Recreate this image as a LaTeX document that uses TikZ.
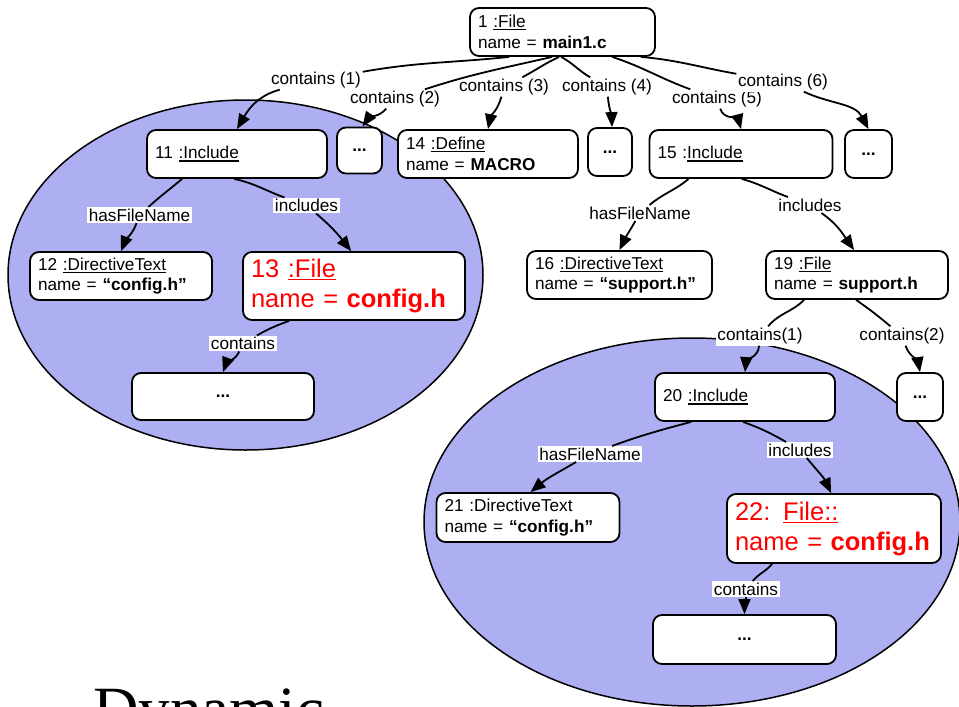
\documentclass[tikz,border=0pt]{standalone}
\usepackage{fontspec}
\setmainfont{Liberation Sans}
\newfontfamily\dynfont{Liberation Serif}
\usetikzlibrary{arrows.meta}
\definecolor{ellblue}{RGB}{174,174,242}
\newcommand{\uln}[1]{\vtop{\hbox{#1}\kern1.3pt\hrule height 1.1pt}}
\newcommand{\normaltext}{\fontsize{17.2}{20.5}\selectfont}
\newcommand{\bigtext}{\fontsize{25.5}{30}\selectfont}
\begin{document}
\begin{tikzpicture}[x=1pt,y=-1pt,
  obj/.style={draw, line width=1.8pt, rounded corners=9pt, fill=white, inner xsep=8pt, inner ysep=0pt, align=left, font=\normaltext},
  bigobj/.style={obj, text=red, font=\bigtext},
  dots/.style={obj, align=center},
  lab/.style={fill=white, inner sep=1.5pt, font=\normaltext},
  conn/.style={line width=1.8pt},
  arr/.style={conn, -{Triangle[length=15pt,width=12pt]}},
  ell/.style={fill=ellblue, draw=black, line width=1.5pt}]
\useasboundingbox (0,0) rectangle (959,707);
\clip (0,0) rectangle (959,707);

% groups
\fill[white] (0,0) rectangle (959,707);
\draw[ell] (245.5,275) ellipse [x radius=237.5, y radius=175];
\draw[ell] (692,522) ellipse [x radius=268, y radius=184];

% nodes
\node[obj, text width=169pt, minimum height=48pt] (n1) at (562.5,32) {1 \uln{:File}\\name = \textbf{main1.c}};
\node[obj, text width=164pt, minimum height=48pt] (n11) at (237,154) {11 \uln{:Include}};
\node[dots, text width=29pt, minimum height=46pt] (dA) at (359.5,150.5) {\textbf{...}};
\node[obj, text width=164pt, minimum height=48pt] (n14) at (488,154) {14 \uln{:Define}\\name = \textbf{MACRO}};
\node[dots, text width=28pt, minimum height=48pt] (dB) at (610,152) {\textbf{...}};
\node[obj, text width=167pt, minimum height=48pt] (n15) at (741,154) {15 :\uln{Include}};
\node[dots, text width=31pt, minimum height=48pt] (dC) at (868.5,154) {\textbf{...}};
\node[obj, text width=166pt, minimum height=48pt] (n12) at (121,276) {12 \uln{:DirectiveText}\\name = \textbf{“config.h”}};
\node[bigobj, text width=206pt, minimum height=68pt] (n13) at (354,286) {13 \uln{:File}\\name = \textbf{config.h}};
\node[dots, text width=166pt, minimum height=47pt] (dLL) at (223,396.5) {\textbf{...}};
\node[obj, text width=169pt, minimum height=48pt] (n16) at (619.5,275) {16 \uln{:DirectiveText}\\name = \textbf{“support.h”}};
\node[obj, text width=166pt, minimum height=48pt] (n19) at (857,275) {19 \uln{:File}\\name = \textbf{support.h}};
\node[obj, text width=164pt, minimum height=48pt] (n20) at (745,397) {20 \uln{:Include}};
\node[dots, text width=30pt, minimum height=48pt] (dD) at (920,397) {\textbf{...}};
\node[obj, text width=167pt, minimum height=49pt] (n21) at (528,517.5) {21 :DirectiveText\\name = \textbf{“config.h”}};
\node[bigobj, text width=198pt, minimum height=69pt] (n22) at (834,528.5) {22: \uln{File::}\\name = \textbf{config.h}};
\node[dots, text width=167pt, minimum height=49pt] (dLR) at (744.5,639.5) {\textbf{...}};

% labels
\node[lab] (l1) at (316,80) {contains (1)};
\node[lab] (l2) at (395,99) {contains (2)};
\node[lab] (l3) at (504,87) {contains (3)};
\node[lab] (l4) at (607,87) {contains (4)};
\node[lab] (l5) at (717,99) {contains (5)};
\node[lab] (l6) at (783,82) {contains (6)};
\node[lab] (lh1) at (139.5,215) {hasFileName};
\node[lab] (li1) at (306.5,205.5) {includes};
\node[lab] (lc1) at (243,343.5) {contains};
\node[lab] (lh2) at (640,213) {hasFileName};
\node[lab] (li2) at (810,205) {includes};
\node[lab] (lc2) at (760,336) {contains(1)};
\node[lab] (lc3) at (902,336) {contains(2)};
\node[lab] (lh3) at (590,454) {hasFileName};
\node[lab] (li3) at (800,450) {includes};
\node[lab] (lc4) at (746,589) {contains};

% connectors
\draw[conn] ([xshift=40pt]n1.south west) to[out=186,in=10] (l1);
\draw[arr] (l1) to[out=195,in=60] (n11.north);
\draw[conn] ([xshift=83pt]n1.south west) to[out=193,in=18] (l2);
\draw[arr] (l2) to[out=228,in=55] ([xshift=3pt]dA.north);
\draw[conn] ([xshift=90pt]n1.south west) to[out=205,in=28] (l3);
\draw[arr] (l3) to[out=255,in=78] (n14.north);
\draw[conn] ([xshift=92pt]n1.south west) to[out=-28,in=150] (l4);
\draw[arr] (l4) to[out=-85,in=92] ([xshift=2pt]dB.north);
\draw[conn] ([xshift=143pt]n1.south west) to[out=-18,in=160] (l5);
\draw[arr] (l5) to[out=-72,in=105] (n15.north);
\draw[conn] ([xshift=-15pt]n1.south east) to[out=-5,in=170] (l6);
\draw[arr] (l6) to[out=-25,in=118] (dC.north);

\draw[conn] ([xshift=36pt]n11.south west) to[out=-140,in=42] (lh1);
\draw[arr] (lh1) to[out=-110,in=68] (n12.north);
\draw[conn] ([xshift=88pt]n11.south west) to[out=-12,in=160] (li1);
\draw[arr] (li1) to[out=-40,in=128] ([xshift=109pt]n13.north west);
\draw[conn] ([xshift=47pt]n13.south west) to[out=200,in=30] (lc1);
\draw[arr] (lc1) to[out=-115,in=70] (dLL.north);

\draw[conn] ([xshift=40pt]n15.south west) to[out=-140,in=40] (lh2);
\draw[arr] (lh2) to[out=-120,in=65] (n16.north);
\draw[conn] ([xshift=93pt]n15.south west) to[out=-15,in=160] (li2);
\draw[arr] (li2) to[out=-35,in=125] ([xshift=89pt]n19.north west);
\draw[conn] ([xshift=39pt]n19.south west) to[out=-135,in=50] (lc2);
\draw[arr] (lc2) to[out=-95,in=85] (n20.north);
\draw[conn] ([xshift=91pt]n19.south west) to[out=-35,in=140] (lc3);
\draw[arr] (lc3) to[out=-70,in=100] (dD.north);

\draw[conn] ([xshift=37pt]n20.south west) to[out=-165,in=20] (lh3);
\draw[arr] (lh3) to[out=-150,in=40] ([xshift=95pt]n21.north west);
\draw[conn] ([xshift=89pt]n20.south west) to[out=-20,in=150] (li3);
\draw[arr] (li3) to[out=-50,in=115] ([xshift=105pt]n22.north west);
\draw[conn] ([xshift=46pt]n22.south west) to[out=-130,in=50] (lc4);
\draw[arr] (lc4) to[out=-90,in=90] (dLR.north);

% caption fragment
\node[anchor=base west, inner sep=0pt, font=\dynfont\fontsize{63}{70}\selectfont] (dyn) at (93,730) {Dynamic};
\end{tikzpicture}
\end{document}
